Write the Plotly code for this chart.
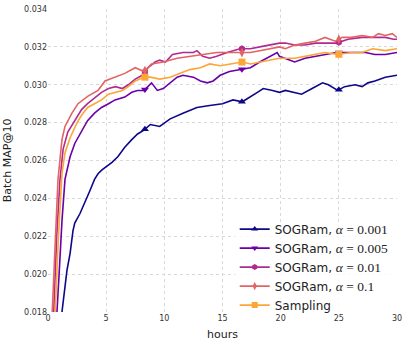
import numpy as np
import plotly.graph_objects as go

# ---- data ----
hours_a001 = [0.9, 1.2, 1.63, 1.9, 2.15, 2.3, 2.75, 3.2, 3.6, 4.0, 4.3, 4.64, 5.5, 6.0, 6.6, 7.2, 7.7, 8.25,
              8.8, 9.6, 10.5, 11.6, 12.8, 13.9, 15.0, 15.9, 16.7, 18.0, 18.5, 19.3, 19.9, 20.4, 21.2, 21.8,
              22.7, 23.6, 24.1, 24.9, 25.5, 26.4, 27.0, 27.5, 28.1, 29.0, 30.0]
map_a001 = [0.0150, 0.0180, 0.0202, 0.0211, 0.0223, 0.0227, 0.0232, 0.0238, 0.0244, 0.0250, 0.0253, 0.0255,
            0.0259, 0.0262, 0.0267, 0.0271, 0.0274, 0.0276, 0.0279, 0.0278, 0.0282, 0.0285, 0.0288, 0.0289,
            0.0290, 0.0292, 0.0291, 0.0296, 0.0298, 0.0297, 0.0296, 0.0297, 0.0296, 0.0295, 0.0298, 0.0301,
            0.0300, 0.0297, 0.0299, 0.0300, 0.0299, 0.0301, 0.0302, 0.0304, 0.0305]

hours_a005 = [0.6, 0.77, 1.0, 1.2, 1.46, 1.9, 2.3, 2.9, 3.4, 4.0, 4.6, 5.2, 5.76, 6.6, 7.2, 7.7, 8.25, 8.9,
              9.4, 9.9, 10.5, 11.1, 11.6, 12.5, 13.1, 13.7, 14.2, 14.8, 15.6, 16.5, 17.4, 18.2, 19.1, 19.7,
              19.9, 20.4, 21.2, 22.1, 23.0, 23.8, 24.8, 25.5, 26.4, 27.3, 28.1, 29.0, 30.0]
map_a005 = [0.0150, 0.0180, 0.0205, 0.0228, 0.0250, 0.0262, 0.0269, 0.0276, 0.0281, 0.0285, 0.0288, 0.0290,
            0.0292, 0.02935, 0.0296, 0.0297, 0.0297, 0.0301, 0.0297, 0.0298, 0.0301, 0.0304, 0.0305, 0.0304,
            0.0302, 0.0301, 0.0302, 0.0305, 0.0307, 0.0308, 0.0309, 0.0312, 0.0315, 0.0317, 0.0315, 0.0314,
            0.0312, 0.0314, 0.0315, 0.0316, 0.0317, 0.0317, 0.0317, 0.0317, 0.0316, 0.0316, 0.0317]

hours_a01 = [0.3, 0.5, 0.75, 1.03, 1.3, 1.7, 2.3, 2.9, 3.4, 4.0, 4.6, 5.2, 5.8, 6.4, 6.9, 7.5, 8.1, 8.6, 9.2,
             9.6, 10.1, 10.7, 11.6, 12.5, 12.8, 13.3, 13.9, 14.5, 15.4, 16.5, 17.4, 18.2, 19.1, 19.9, 20.4,
             21.2, 22.1, 23.0, 23.8, 24.8, 25.8, 27.0, 28.1, 29.0, 29.7, 30.0]
map_a01 = [0.0150, 0.0180, 0.0220, 0.0250, 0.0266, 0.0275, 0.0281, 0.0287, 0.0290, 0.0293, 0.0296, 0.0298,
           0.0299, 0.0298, 0.0300, 0.0303, 0.0305, 0.0309, 0.0312, 0.0313, 0.0312, 0.0316, 0.0317, 0.0317,
           0.0318, 0.0315, 0.0314, 0.0315, 0.0317, 0.0319, 0.0319, 0.0320, 0.0321, 0.0322, 0.0322, 0.0321,
           0.0321, 0.0322, 0.0322, 0.0322, 0.0324, 0.0325, 0.0325, 0.0325, 0.0324, 0.0324]

hours_a1 = [0.15, 0.35, 0.6, 0.86, 1.2, 1.46, 2.06, 2.58, 3.44, 4.3, 4.9, 5.76, 6.6, 7.5, 8.25, 8.9, 9.9, 11.1,
            12.2, 13.3, 14.5, 15.6, 16.7, 17.4, 18.2, 19.1, 19.9, 20.4, 21.2, 22.1, 23.0, 23.8, 24.7, 25.3,
            26.1, 27.0, 27.9, 28.4, 29.0, 29.6, 30.0]
map_a1 = [0.0150, 0.0180, 0.0220, 0.0250, 0.0271, 0.0278, 0.0285, 0.0290, 0.0294, 0.0297, 0.0302, 0.0304,
          0.0306, 0.0309, 0.0307, 0.0311, 0.0312, 0.0314, 0.0315, 0.0316, 0.0317, 0.0317, 0.0317, 0.0317,
          0.0318, 0.0319, 0.0320, 0.0319, 0.0321, 0.0322, 0.0323, 0.0325, 0.0323, 0.0325, 0.0325, 0.0326,
          0.0325, 0.0327, 0.0326, 0.0327, 0.0325]

hours_samp = [0.4, 0.6, 0.9, 1.2, 1.46, 1.9, 2.5, 2.9, 3.4, 4.0, 4.6, 5.2, 5.8, 6.4, 6.9, 7.5, 8.25, 8.8, 9.6,
              10.5, 11.3, 12.2, 13.1, 13.9, 14.8, 15.6, 16.7, 17.4, 18.2, 19.1, 19.9, 20.4, 21.2, 22.1, 23.0,
              23.8, 24.9, 26.1, 27.0, 27.9, 29.0, 30.0]
map_samp = [0.0150, 0.0180, 0.0220, 0.0253, 0.0264, 0.0272, 0.0280, 0.0284, 0.0288, 0.0290, 0.0292, 0.0295,
            0.0296, 0.0297, 0.0299, 0.0302, 0.0304, 0.0304, 0.0303, 0.0304, 0.0306, 0.0308, 0.0309, 0.0311,
            0.0310, 0.0311, 0.0312, 0.0311, 0.0312, 0.0313, 0.0314, 0.0314, 0.0314, 0.0315, 0.0316, 0.0317,
            0.0316, 0.0317, 0.0317, 0.0319, 0.0318, 0.0319]

marker_hours = [8.33, 16.67, 25.0]
x_ticks = [0, 5, 10, 15, 20, 25, 30]
y_ticks = [0.018, 0.020, 0.022, 0.024, 0.026, 0.028, 0.030, 0.032, 0.034]

series = [
    ("0.001", hours_a001, map_a001, "#0d0887", "triangle-up"),
    ("0.005", hours_a005, map_a005, "#6a00a8", "triangle-down"),
    ("0.01", hours_a01, map_a01, "#b12a90", "hexagon"),
    ("0.1", hours_a1, map_a1, "#e16462", "diamond-tall"),
    ("Sampling", hours_samp, map_samp, "#fca636", "square"),
]

fig = go.Figure()
for name, hx, hy, color, sym in series:
    if name == "Sampling":
        label = "Sampling"
    else:
        label = ("SOGRam, <span style='font-family:\"Liberation Serif\";font-size:13.5px'><i>α</i>"
                 " = %s</span>" % name)
    fig.add_trace(go.Scatter(x=hx, y=hy, mode="lines", line=dict(color=color, width=1.6),
                             showlegend=False, hoverinfo="skip"))
    my = np.interp(marker_hours, hx, hy)
    fig.add_trace(go.Scatter(x=marker_hours, y=my, mode="markers",
                             marker=dict(symbol=sym, size=7, color=color),
                             showlegend=False, hoverinfo="skip"))
    fig.add_trace(go.Scatter(x=[None], y=[None], mode="lines+markers", name=label,
                             line=dict(color=color, width=1.6),
                             marker=dict(symbol=sym, size=6, color=color)))

grid = dict(showgrid=True, gridcolor="#d9d9d9", griddash="dot", gridwidth=1,
            zeroline=False, showline=False, ticks="", automargin=False,
            tickfont=dict(family="DejaVu Sans", size=8, color="#333"))

# translucent legend background (like a matplotlib legend frame)
fig.add_shape(type="rect", xref="paper", yref="paper", x0=0.535, x1=1.0, y0=0.0, y1=0.295,
              fillcolor="white", opacity=0.8, line=dict(width=0), layer="above")

fig.update_layout(
    width=407, height=348,
    margin=dict(l=48, r=10, t=9, b=36, autoexpand=False),
    paper_bgcolor="white", plot_bgcolor="white",
    xaxis=dict(range=[0, 30], tickvals=x_ticks, ticktext=[str(v) for v in x_ticks],
               title=dict(text="hours", font=dict(family="DejaVu Sans", size=11, color="#222"), standoff=8),
               **grid),
    yaxis=dict(range=[0.018, 0.034], tickvals=y_ticks, ticktext=["%.3f" % v for v in y_ticks],
               title=dict(text="Batch MAP@10", font=dict(family="DejaVu Sans", size=11, color="#222"), standoff=10),
               **grid),
    legend=dict(x=0.535, y=-0.025, xanchor="left", yanchor="bottom",
                bgcolor="rgba(0,0,0,0)", borderwidth=0,
                font=dict(family="DejaVu Sans", size=12, color="#222"),
                tracegroupgap=0, itemwidth=30),
    showlegend=True,
)

fig.write_html("out.html", config={"displayModeBar": False},
               post_script="document.body.style.margin='0';")
